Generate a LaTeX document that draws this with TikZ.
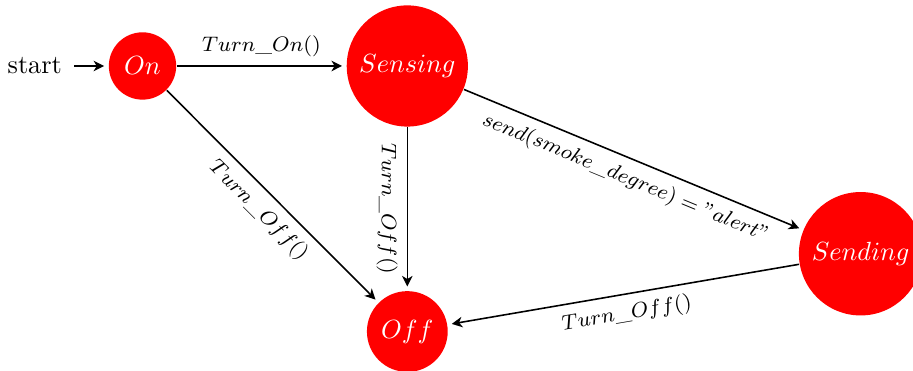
\documentclass[tikz,border=0pt]{standalone}
\usepackage{amsmath}
\usetikzlibrary{arrows.meta}

\begin{document}
\begin{tikzpicture}[>={Stealth[length=4pt,width=4pt,inset=1.2pt]}, semithick]
		\tikzstyle{state}=[circle,fill=red,text=white,inner sep=0]
		\tikzstyle{trans}=[->,shorten >=1.5pt]
		\tikzstyle{cond}=[sloped,midway,font=\footnotesize]

		\clip (-1.905,-4.077) rectangle (10.30,0.882);

		\node[state,minimum size=0.9cm] (on) at (0,0) {$On$};
		\node[state,minimum size=1.62cm] (sensing) at (3.54,0) {$Sensing$};
		\node[state,minimum size=1.08cm] (off) at (3.54,-3.55) {$Off$};
		\node[state,minimum size=1.65cm] (sending) at (9.6,-2.51) {$Sending$};
		\node (start) at (-1.44,0) {start};

		\draw[trans,shorten <=1pt] (start) -- (on);
		\path[trans] (on) edge node[cond,above] {$Turn\_On()$} (sensing);
		\path[trans] (on) edge node[cond,below] {$Turn\_Off()$} (off);
		\path[trans] (sensing) edge node[cond,below] {$Turn\_Off()$} (off);
		\path[trans] (sensing) edge node[cond,below] {$send(smoke\_degree)="alert"$} (sending);
		\path[trans] (sending) edge node[cond,below] {$Turn\_Off()$} (off);
	\end{tikzpicture}
\end{document}
